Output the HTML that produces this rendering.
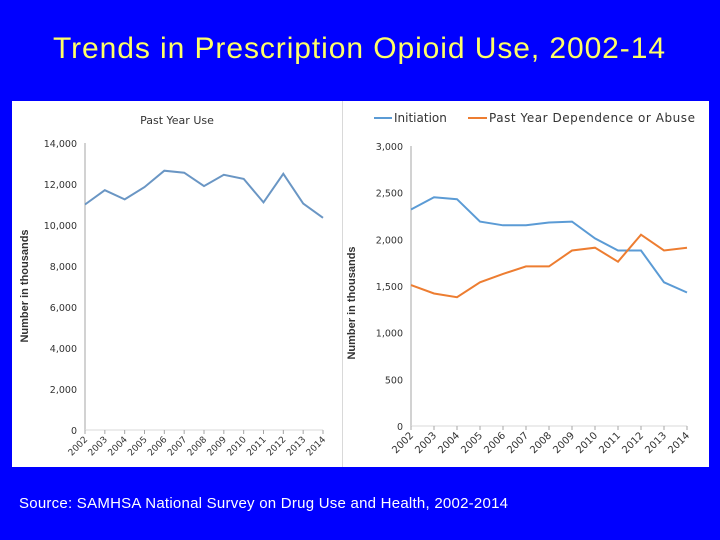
<!DOCTYPE html>
<html><head><meta charset="utf-8"><style>
html,body{margin:0;padding:0;background:#0000ff;width:720px;height:540px;overflow:hidden}
svg{display:block}
</style></head><body>
<svg id="s" width="720" height="540" xmlns="http://www.w3.org/2000/svg">
<rect x="0" y="0" width="720" height="540" fill="#0000ff"/>
<text x="359" y="58" text-anchor="middle" font-family="Liberation Sans, sans-serif" font-size="30" fill="#ffff66" textLength="612">Trends in Prescription Opioid Use, 2002-14</text>
<rect x="12" y="101" width="697" height="366" fill="#ffffff"/>
<line x1="342.5" y1="101" x2="342.5" y2="467" stroke="#d9d9d9"/>
<text x="177" y="124" text-anchor="middle" font-family="DejaVu Sans, sans-serif" font-size="11" fill="#333">Past Year Use</text>
<text transform="translate(28,286) rotate(-90)" text-anchor="middle" font-family="Liberation Sans, sans-serif" font-weight="bold" font-size="11" fill="#333">Number in thousands</text>
<text transform="translate(355,303) rotate(-90)" text-anchor="middle" font-family="Liberation Sans, sans-serif" font-weight="bold" font-size="11" fill="#333">Number in thousands</text>
<g>
<line x1="374" y1="118" x2="392" y2="118" stroke="#5b9bd5" stroke-width="2"/>
<text x="394" y="122" font-family="DejaVu Sans, sans-serif" font-size="12" fill="#333">Initiation</text>
<line x1="468" y1="118" x2="487" y2="118" stroke="#ed7d31" stroke-width="2"/>
<text x="489" y="122" font-family="DejaVu Sans, sans-serif" font-size="12" fill="#333" textLength="206">Past Year Dependence or Abuse</text>
</g>
<text x="19" y="508" font-family="Liberation Sans, sans-serif" font-size="15" fill="#ffffff" textLength="489">Source: SAMHSA National Survey on Drug Use and Health, 2002-2014</text>
<g id="g"></g>
</svg>
<script>
const years = ["2002","2003","2004","2005","2006","2007","2008","2009","2010","2011","2012","2013","2014"];
const pastYearUse = [11000,11700,11250,11850,12650,12550,11900,12450,12250,11100,12500,11050,10350];
const initiation = [2320,2450,2430,2190,2150,2150,2180,2190,2010,1880,1880,1540,1430];
const dependence = [1510,1420,1380,1540,1630,1710,1710,1880,1910,1760,2050,1880,1910];
const leftTicks = [0,2000,4000,6000,8000,10000,12000,14000];
const rightTicks = [0,500,1000,1500,2000,2500,3000];

const NS="http://www.w3.org/2000/svg";
const g=document.getElementById('g');
function mk(tag,attrs,txt){const e=document.createElementNS(NS,tag);for(const k in attrs)e.setAttribute(k,attrs[k]);if(txt!==undefined)e.textContent=txt;g.appendChild(e);return e;}
function fmt(v){return v.toLocaleString('en-US');}

function chart(cfg){
  const xs=i=>cfg.x0+(cfg.x1-cfg.x0)*i/(years.length-1);
  const ys=v=>cfg.y0-(cfg.y0-cfg.y1)*v/cfg.max;
  const ax=mk('line',{x1:cfg.x0,y1:cfg.y1,x2:cfg.x0,y2:cfg.y0,stroke:'#a6a6a6'});
  
  
  const bx=mk('line',{x1:cfg.x0,y1:cfg.y0,x2:cfg.x1,y2:cfg.y0,stroke:'#d9d9d9'});
  
  
  cfg.ticks.forEach(t=>{
    const e=mk('text',{x:cfg.x0-8,y:ys(t)+4,'text-anchor':'end','font-family':'DejaVu Sans, sans-serif','font-size':'9.5',fill:'#333'},fmt(t));
    
    
  });
  years.forEach((y,i)=>{
    const x=xs(i);
    const tk=mk('line',{x1:x,y1:cfg.y0,x2:x,y2:cfg.y0+4,stroke:'#a6a6a6'});
    
    
    const e=mk('text',{transform:`translate(${x+3},${cfg.y0+10}) rotate(-45)`,'text-anchor':'end','font-family':'DejaVu Sans, sans-serif','font-size':cfg.fs,fill:'#333'},y);
    
    
  });
  cfg.series.forEach(s=>{
    const pts=s.data.map((v,i)=>xs(i).toFixed(1)+','+ys(v).toFixed(1)).join(' ');
    const e=mk('polyline',{points:pts,fill:'none',stroke:s.c,'stroke-width':'2'});
    
    
  });
}
chart({p:'left',x0:85,x1:323,y0:430,y1:143,max:14000,ticks:leftTicks,fs:'9',
  series:[{data:pastYearUse,c:'#6a96c4',n:'past-year-use-line'}]});
chart({p:'right',x0:411,x1:687,y0:426,y1:146,max:3000,ticks:rightTicks,fs:'10',
  series:[{data:initiation,c:'#5b9bd5',n:'initiation-line'},{data:dependence,c:'#ed7d31',n:'dependence-line'}]});
</script>
</body></html>
